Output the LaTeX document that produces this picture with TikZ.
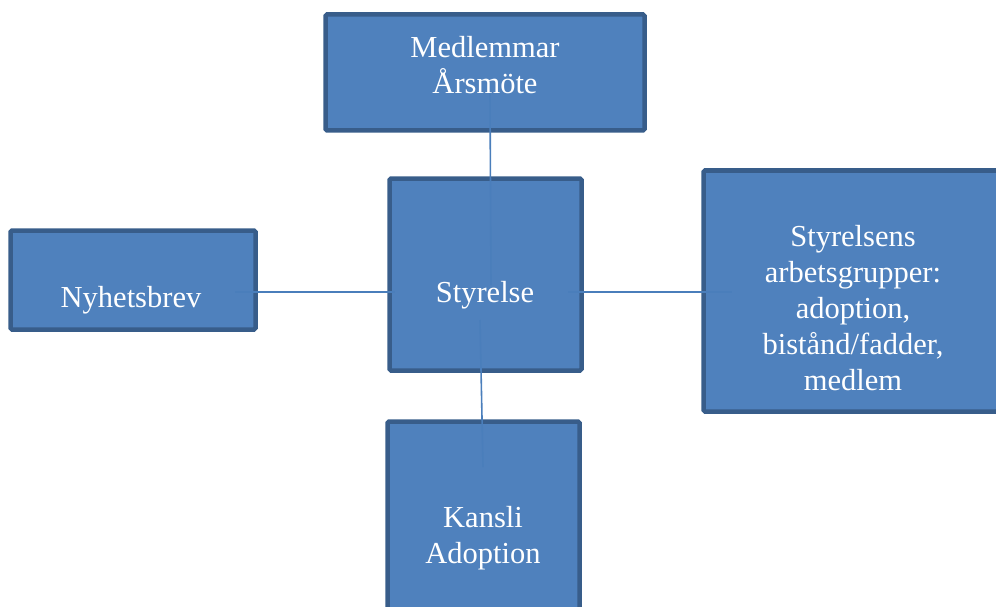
\documentclass[tikz,border=0pt]{standalone}
\usepackage{fontspec}
\setmainfont{Liberation Serif}
\newfontfamily\timesx{Liberation Serif}
\definecolor{boxfill}{HTML}{4F81BD}
\definecolor{boxline}{HTML}{385D8A}
\definecolor{conn}{HTML}{4A7EBB}
\begin{document}
\begin{tikzpicture}[x=1pt,y=-1pt,
  box/.style={draw=boxline, fill=boxfill, line width=4.5pt, rounded corners=1.5pt, inner sep=0pt, rectangle},
  label/.style={text=white, font=\timesx\fontsize{30.5}{36}\selectfont, align=center, inner sep=0pt},
  conline/.style={draw=conn, line width=1.6pt}]
\useasboundingbox (0,0) rectangle (996,607);
% boxes
\node[box, minimum width=319pt, minimum height=116pt] (mbox) at (485,72.5) {};
\node[box, minimum width=192pt, minimum height=192pt] (sbox) at (485.5,274.5) {};
\node[box, minimum width=245pt, minimum height=99pt] (nbox) at (133,280) {};
\node[box, minimum width=306.5pt, minimum height=241pt] (abox) at (856.75,291) {};
\node[box, minimum width=192pt, minimum height=218.5pt] (kbox) at (483.5,530.75) {};
% texts
\node[label] (mtext) at (485,65) {Medlemmar\\Årsmöte};
\node[label, anchor=base] (stext) at (485,302) {Styrelse};
\node[label, anchor=base] (ntext) at (131,307) {Nyhetsbrev};
\node[label] (atext) at (853,308) {Styrelsens\\arbetsgrupper:\\adoption,\\bistånd/fadder,\\medlem};
\node[label] (ktext) at (483,538) {Kansli\\Adoption};
% connector ends
\coordinate (mc) at (490,93);
\coordinate (st) at (491,285);
\coordinate (nc) at (235,292);
\coordinate (sl) at (395,292);
\coordinate (sr) at (568,292);
\coordinate (ac) at (732,292);
\coordinate (sb) at (480,320);
\coordinate (kc) at (483,467);
\draw[conline] (mc) -- (st);
\draw[conline] (nc) -- (sl);
\draw[conline] (sr) -- (ac);
\draw[conline] (sb) -- (kc);
\end{tikzpicture}
\end{document}
